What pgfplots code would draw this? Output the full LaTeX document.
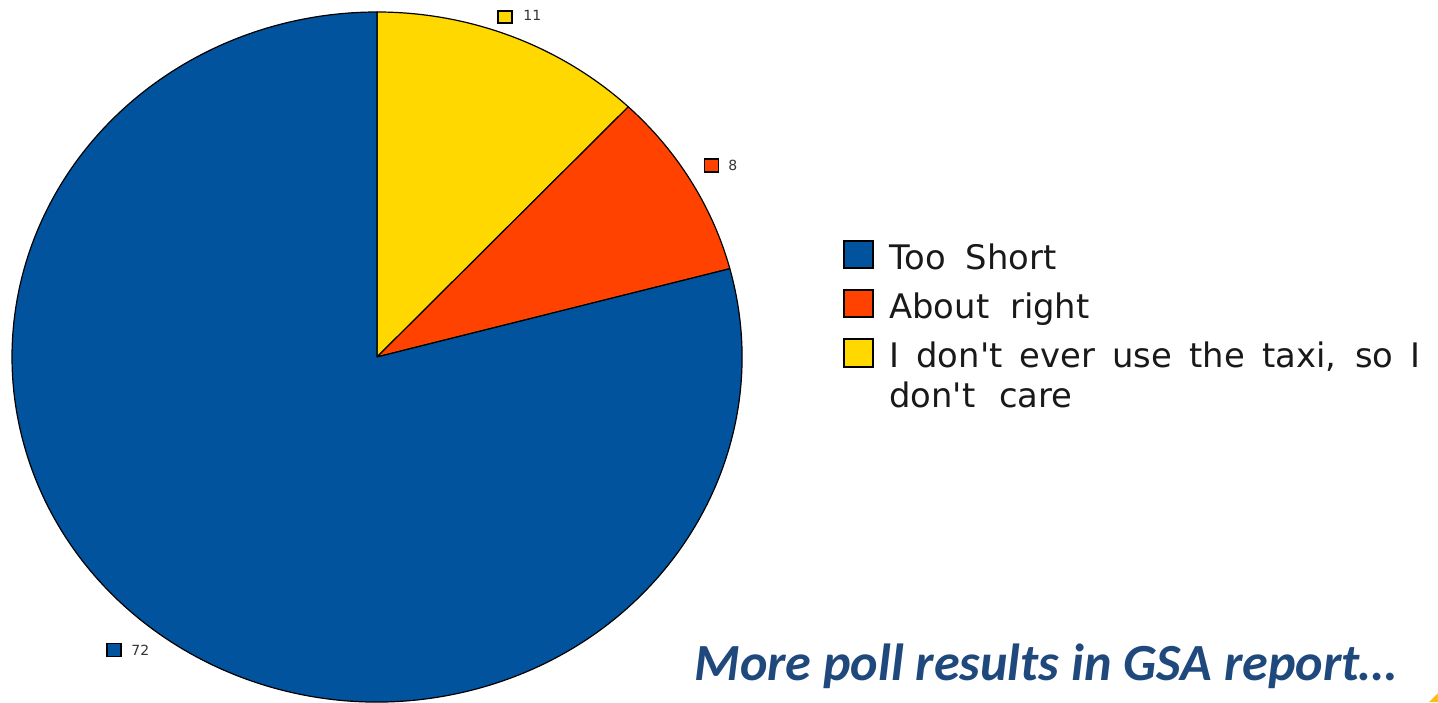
\documentclass[border=0pt]{standalone}
\usepackage{pgfplots}
\pgfplotsset{compat=1.18}
\usepackage{fontspec}
\setmainfont{DejaVu Sans}[Ligatures=TeXOff]
\newfontfamily\calibri{Carlito}
\definecolor{cBlue}{RGB}{0,83,156}
\definecolor{cOrange}{RGB}{255,66,0}
\definecolor{cYellow}{RGB}{255,216,0}
\definecolor{cText}{RGB}{31,73,125}
\definecolor{cCorner}{RGB}{250,190,20}
% data
\def\vShort{72}
\def\vRight{8}
\def\vNone{11}
\pgfmathsetmacro{\total}{\vShort+\vRight+\vNone}
\pgfmathsetmacro{\aS}{90}
\pgfmathsetmacro{\aY}{\aS-360/\total*\vNone}
\pgfmathsetmacro{\aO}{\aY-360/\total*\vRight}
\pgfmathsetmacro{\aB}{\aO-360/\total*\vShort}
\def\cx{377}
\def\cy{345}
\def\rx{365}
\def\ry{345}
\pgfmathsetmacro{\xS}{\cx+\rx*cos(\aS)}
\pgfmathsetmacro{\yS}{\cy+\ry*sin(\aS)}
\pgfmathsetmacro{\xY}{\cx+\rx*cos(\aY)}
\pgfmathsetmacro{\yY}{\cy+\ry*sin(\aY)}
\pgfmathsetmacro{\xO}{\cx+\rx*cos(\aO)}
\pgfmathsetmacro{\yO}{\cy+\ry*sin(\aO)}
\begin{document}
\begin{tikzpicture}
\begin{axis}[scale only axis, width=719pt, height=351pt,
  xmin=0, xmax=1438, ymin=0, ymax=702, enlargelimits=false,
  hide axis, clip=false]
\path (0,0) rectangle (1438,702);
% sectors (overlay: Bezier control points must not enlarge the page)
\filldraw[overlay, fill=cYellow, draw=black, line width=0.6pt, line join=round]
  (\cx,\cy) -- (\xS,\yS) arc[start angle=\aS, end angle=\aY, x radius=\rx, y radius=\ry] -- cycle;
\filldraw[overlay, fill=cOrange, draw=black, line width=0.6pt, line join=round]
  (\cx,\cy) -- (\xY,\yY) arc[start angle=\aY, end angle=\aO, x radius=\rx, y radius=\ry] -- cycle;
\filldraw[overlay, fill=cBlue, draw=black, line width=0.6pt, line join=round]
  (\cx,\cy) -- (\xO,\yO) arc[start angle=\aO, end angle=\aB, x radius=\rx, y radius=\ry] -- cycle;
% data labels
\begin{scope}[every node/.style={inner sep=0pt}]
\node[draw=black, fill=cYellow, line width=0.7pt, minimum width=7pt, minimum height=6pt] at (505,685) {};
\node[anchor=west, font=\fontsize{7}{8}\selectfont, text=black!80] at (523,687) {11};
\node[draw=black, fill=cOrange, line width=0.7pt, minimum width=7pt, minimum height=6.5pt] at (711.5,536.5) {};
\node[anchor=west, font=\fontsize{7}{8}\selectfont, text=black!80] at (728,536.5) {8};
\node[draw=black, fill=cBlue, line width=0.7pt, minimum width=7pt, minimum height=6.5pt] at (114,52) {};
\node[anchor=west, font=\fontsize{7}{8}\selectfont, text=black!80] at (131,52) {72};
\end{scope}
% legend
\node[draw=black, fill=cBlue, line width=1pt, minimum width=14.5pt, minimum height=13.5pt, inner sep=0pt] at (858,447) {};
\node[draw=black, fill=cOrange, line width=1pt, minimum width=14.5pt, minimum height=13.5pt, inner sep=0pt] at (858,398.5) {};
\node[draw=black, fill=cYellow, line width=1pt, minimum width=14.5pt, minimum height=13.5pt, inner sep=0pt] at (858,349) {};
\begin{scope}[every node/.style={anchor=base west, inner sep=0pt, font=\fontsize{16.9}{20}\selectfont, text=black!90}]
\node at (889,432) {Too\hspace{0.28em} Short};
\node at (889,383.5) {About\hspace{0.3em} right};
\node at (889,335) {\makebox[265.5pt][s]{I don't ever use the taxi, so I}};
\node at (889,295) {don't\hspace{0.38em} care};
\end{scope}
% footer text
\node[anchor=base west, inner sep=0pt, text=cText, font=\calibri\bfseries\itshape\fontsize{26.1}{30}\selectfont] at (694,22) {More poll results in GSA report…};
\fill[cCorner] (1429,0) -- (1438,0) -- (1438,9) -- cycle;
\end{axis}
\end{tikzpicture}
\end{document}
